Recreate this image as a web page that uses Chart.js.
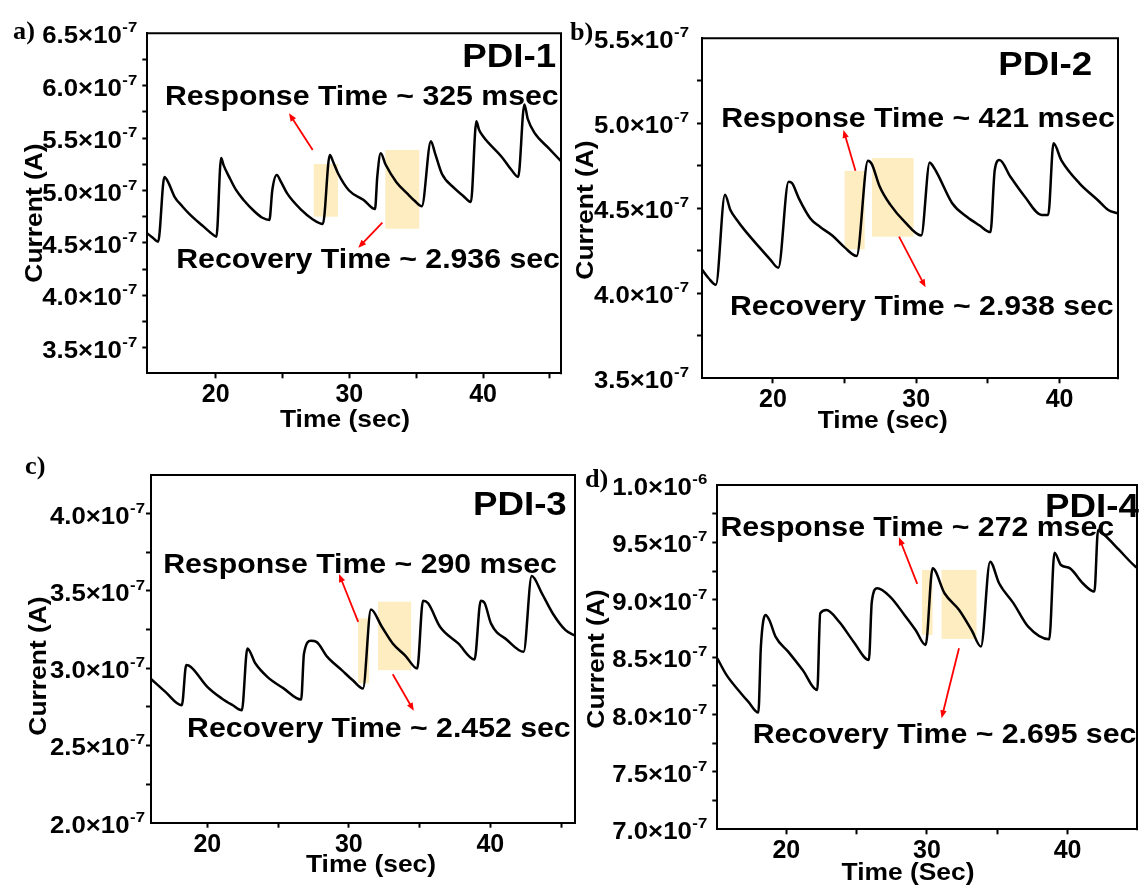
<!DOCTYPE html>
<html><head><meta charset="utf-8">
<script src="https://cdn.jsdelivr.net/npm/chart.js@4/dist/chart.umd.min.js"></script>
<style>
html,body{margin:0;padding:0;background:#fff;}
#wrap{position:relative;width:1141px;height:885px;overflow:hidden;background:#fff;}
#wrap canvas{position:absolute;left:0;top:0;}
</style></head><body><div id="wrap">
<canvas id="cA" width="1141" height="885"></canvas>
<canvas id="cB" width="1141" height="885"></canvas>
<canvas id="cC" width="1141" height="885"></canvas>
<canvas id="cD" width="1141" height="885"></canvas>
</div>
<script>
// ---------- DATA (current in units of 1e-7 A, time in s) ----------
const timeA = [14.89,15.3,15.7,16.17,16.45,16.93,17.5,18.01,18.6,19.1,19.6,20.06,20.41,20.6,21.01,21.5,22.09,22.91,23.5,24.02,24.24,24.57,24.9,25.36,26.45,27.2,28.02,28.54,28.8,29.17,29.98,31.07,31.92,32.09,32.35,32.7,33.52,34.34,34.9,35.42,36.1,36.4,36.92,37.87,38.5,39.09,39.5,39.7,40.04,41.4,42.1,42.63,43.09,43.35,43.85,44.94,45.83];
const currentA = [4.59,4.55,4.51,5.13,5.08,4.94,4.85,4.78,4.71,4.655,4.6,4.56,5.31,5.24,5.13,5.01,4.91,4.80,4.74,4.718,5.005,5.148,5.08,4.97,4.81,4.73,4.68,5.34,5.27,5.16,5.00,4.91,4.823,5.132,5.355,5.25,5.08,4.97,4.9,4.85,5.47,5.36,5.16,5.02,4.95,4.89,5.66,5.58,5.51,5.32,5.2,5.13,5.82,5.68,5.55,5.40,5.28];

const timeB = [15.05,15.5,16.02,16.65,17.03,17.5,18.04,19.06,19.8,20.38,21.09,21.34,21.8,22.61,23.3,24.14,25.0,25.84,26.63,26.9,27.44,28.2,29.2,30.35,30.94,31.15,31.5,32.51,33.53,34.4,35.18,35.48,35.81,36.57,37.58,38.75,39.21,39.58,40.12,41.39,42.66,43.4,44.08];
const currentB = [4.14,4.09,4.05,4.58,4.49,4.43,4.37,4.27,4.2,4.15,4.656,4.647,4.56,4.44,4.39,4.34,4.27,4.22,4.78,4.76,4.63,4.52,4.42,4.34,4.77,4.75,4.70,4.53,4.45,4.4,4.36,4.725,4.784,4.686,4.568,4.461,4.461,4.882,4.784,4.647,4.549,4.49,4.47];

const timeC = [16.02,17.0,18.2,18.51,18.84,20.0,21.02,21.8,22.44,22.83,23.4,24.24,25.39,26.63,26.83,27.32,27.71,28.48,29.5,30.3,31.0,31.56,32.33,33.1,34.0,34.83,35.24,35.6,36.44,37.73,38.88,39.32,39.6,40.04,41.2,42.35,42.92,43.64,44.41,45.31,45.98];
const currentC = [2.93,2.85,2.76,3.02,3.008,2.879,2.804,2.76,2.728,3.128,3.03,2.944,2.869,2.797,3.095,3.177,3.17,3.073,2.987,2.92,2.869,3.38,3.268,3.16,3.08,2.998,3.436,3.42,3.268,3.16,3.056,3.436,3.42,3.29,3.181,3.106,3.596,3.484,3.354,3.246,3.21];

const timeD = [15.09,15.74,16.77,17.29,18.01,18.19,18.52,18.79,19.23,20.13,21.16,22.2,22.41,22.85,23.75,24.78,25.87,26.08,26.47,27.37,28.4,29.19,29.91,30.4,31.25,32.29,33.2,33.84,34.49,35.13,36.16,37.2,38.7,39.07,39.53,40.18,41.08,41.91,42.17,42.63,43.67,44.84,44.94];
const currentD = [8.49,8.345,8.186,8.112,8.017,8.592,8.868,8.824,8.679,8.548,8.388,8.214,8.882,8.911,8.809,8.635,8.476,8.984,9.1,9.027,8.868,8.737,8.606,9.274,9.057,8.911,8.73,8.592,9.332,9.144,8.969,8.766,8.656,9.41,9.303,9.274,9.144,9.071,9.608,9.564,9.434,9.288,9.28];

// tick labels
const xTickLabels = [20, 30, 40];
const yTicksA = [3.5,4.0,4.5,5.0,5.5,6.0,6.5];
const yTickLabelsA = ['3.5×10^-7','4.0×10^-7','4.5×10^-7','5.0×10^-7','5.5×10^-7','6.0×10^-7','6.5×10^-7'];
const yTicksB = [3.5,4.0,4.5,5.0,5.5];
const yTickLabelsB = ['3.5×10^-7','4.0×10^-7','4.5×10^-7','5.0×10^-7','5.5×10^-7'];
const yTicksC = [2.0,2.5,3.0,3.5,4.0];
const yTickLabelsC = ['2.0×10^-7','2.5×10^-7','3.0×10^-7','3.5×10^-7','4.0×10^-7'];
const yTicksD = [7.0,7.5,8.0,8.5,9.0,9.5,10.0];
const yTickLabelsD = ['7.0×10^-7','7.5×10^-7','8.0×10^-7','8.5×10^-7','9.0×10^-7','9.5×10^-7','1.0×10^-6'];

// annotation texts
const textsA = ['PDI-1','Response Time ~ 325 msec','Recovery Time ~ 2.936 sec'];
const textsB = ['PDI-2','Response Time ~ 421 msec','Recovery Time ~ 2.938 sec'];
const textsC = ['PDI-3','Response Time ~ 290 msec','Recovery Time ~ 2.452 sec'];
const textsD = ['PDI-4','Response Time ~ 272 msec','Recovery Time ~ 2.695 sec'];

// highlighted windows [x0,x1,y0,y1] and arrows [xFrom,yFrom,xTo,yTo] in data units
const windowsA = [[27.34,29.15,4.75,5.253],[32.69,35.23,4.635,5.387]];
const arrowsA = [[27.26,5.386,25.49,5.737],[32.47,4.693,30.67,4.454]];
const windowsB = [[25.0,26.4,4.259,4.72],[26.92,29.82,4.333,4.796]];
const arrowsB = [[25.76,4.721,24.92,4.961],[28.8,4.333,30.65,4.035]];
const windowsC = [[30.65,31.43,2.901,3.322],[32.06,34.4,2.987,3.43]];
const arrowsC = [[30.66,3.3,29.31,3.609],[33.1,2.961,34.59,2.724]];
const windowsD = [[29.65,30.4,8.693,9.26],[31.04,33.53,8.659,9.26]];
const arrowsD = [[29.31,9.138,28.01,9.544],[32.28,8.578,31.04,7.968]];

// ---------- LAYOUT ----------
const W = 1141, H = 885, SX = 1.08;
const SANS = '"Liberation Sans", Arial, sans-serif';
const SERIF = '"Liberation Serif", "Times New Roman", serif';

const panels = [
  {id:'cA', t:timeA, c:currentA, yt:yTicksA, yl:yTickLabelsA, texts:textsA, win:windowsA, arr:arrowsA,
   box:[147.3,33.3,561,373.3], xr:[14.89,45.83], yr:[3.256,6.5], gap:10,
   letter:'a)', letterPos:[13,39], yTitlePos:[42,213], xTitle:'Time (sec)', xTitlePos:[345,427],
   anchors:[[45.46,6.176],[30.93,5.82],[31.4,4.256]]},
  {id:'cB', t:timeB, c:currentB, yt:yTicksB, yl:yTickLabelsB, texts:textsB, win:windowsB, arr:arrowsB,
   box:[702,38.3,1118,378.3], xr:[15.05,44.08], yr:[3.5,5.5], gap:13,
   letter:'b)', letterPos:[570,40], yTitlePos:[593,210], xTitle:'Time (sec)', xTitlePos:[882.7,428],
   anchors:[[42.27,5.284],[30.12,4.978],[30.39,3.872]]},
  {id:'cC', t:timeC, c:currentC, yt:yTicksC, yl:yTickLabelsC, texts:textsC, win:windowsC, arr:arrowsC,
   box:[151,475,575,822.7], xr:[16.02,45.98], yr:[2.0,4.25], gap:6,
   letter:'c)', letterPos:[25,474], yTitlePos:[46,666], xTitle:'Time (sec)', xTitlePos:[371,872],
   anchors:[[45.4,3.991],[30.79,3.613],[32.12,2.555]]},
  {id:'cD', t:timeD, c:currentD, yt:yTicksD, yl:yTickLabelsD, texts:textsD, win:windowsD, arr:arrowsD,
   box:[717.3,485,1137,829.3], xr:[15.09,44.94], yr:[7.0,10.0], gap:10,
   letter:'d)', letterPos:[585,487], yTitlePos:[604,659], xTitle:'Time (Sec)', xTitlePos:[908,880],
   anchors:[[45.08,9.721],[29.31,9.556],[31.25,7.75]]}
];

function txt(ctx, s, x, y, font, align, sx) {
  ctx.save();
  ctx.translate(x, y);
  ctx.scale(sx === undefined ? SX : sx, 1);
  ctx.font = font; ctx.textAlign = align; ctx.textBaseline = 'alphabetic';
  ctx.fillStyle = '#000';
  ctx.fillText(s, 0, 0);
  ctx.restore();
}

function sci(ctx, label, rightX, y) {
  const parts = label.split('^');
  ctx.save();
  ctx.translate(rightX, y);
  ctx.scale(1.12, 1);
  ctx.fillStyle = '#000';
  ctx.textAlign = 'right'; ctx.textBaseline = 'alphabetic';
  ctx.font = 'bold 15px ' + SANS;
  const sw = ctx.measureText(parts[1]).width;
  ctx.fillText(parts[1], 0, -1);
  ctx.font = 'bold 23px ' + SANS;
  ctx.fillText(parts[0], -sw - 0.5, 10);
  ctx.restore();
}

function arrow(ctx, x1, y1, x2, y2) {
  const a = Math.atan2(y2 - y1, x2 - x1), hl = 8, hw = 3.2;
  ctx.save();
  ctx.strokeStyle = '#f00'; ctx.fillStyle = '#f00'; ctx.lineWidth = 1.8;
  ctx.beginPath(); ctx.moveTo(x1, y1);
  ctx.lineTo(x2 - Math.cos(a) * hl * 0.8, y2 - Math.sin(a) * hl * 0.8); ctx.stroke();
  ctx.beginPath();
  ctx.moveTo(x2, y2);
  ctx.lineTo(x2 - Math.cos(a) * hl + Math.sin(a) * hw, y2 - Math.sin(a) * hl - Math.cos(a) * hw);
  ctx.lineTo(x2 - Math.cos(a) * hl - Math.sin(a) * hw, y2 - Math.sin(a) * hl + Math.cos(a) * hw);
  ctx.closePath(); ctx.fill();
  ctx.restore();
}

function makeDeco(p) {
  return {
    id: 'deco' + p.id,
    beforeDatasetsDraw(chart) {
      const ctx = chart.ctx, xs = chart.scales.x, ys = chart.scales.y;
      ctx.save();
      ctx.fillStyle = '#FDEDC1';
      p.win.forEach(r => {
        const x0 = xs.getPixelForValue(r[0]), x1 = xs.getPixelForValue(r[1]);
        const y0 = ys.getPixelForValue(r[2]), y1 = ys.getPixelForValue(r[3]);
        ctx.fillRect(x0, y1, x1 - x0, y0 - y1);
      });
      ctx.restore();
    },
    afterDatasetsDraw(chart) {
      const ctx = chart.ctx, xs = chart.scales.x, ys = chart.scales.y;
      p.arr.forEach(a => arrow(ctx, xs.getPixelForValue(a[0]), ys.getPixelForValue(a[1]),
                                 xs.getPixelForValue(a[2]), ys.getPixelForValue(a[3])));
    },
    afterDraw(chart) {
      const ctx = chart.ctx, xs = chart.scales.x, ys = chart.scales.y, ca = chart.chartArea;
      ctx.save();
      ctx.strokeStyle = '#000'; ctx.lineWidth = 2;
      ctx.beginPath();
      ctx.moveTo(ca.left - 1, ca.top); ctx.lineTo(ca.right, ca.top); ctx.lineTo(ca.right, ca.bottom + 1);
      ctx.stroke();
      ctx.restore();
      p.yt.forEach((v, i) => sci(ctx, p.yl[i], ca.left - p.gap, ys.getPixelForValue(v)));
      const an = p.anchors;
      txt(ctx, p.texts[0], xs.getPixelForValue(an[0][0]), ys.getPixelForValue(an[0][1]), 'bold 34px ' + SANS, 'right');
      txt(ctx, p.texts[1], xs.getPixelForValue(an[1][0]), ys.getPixelForValue(an[1][1]), 'bold 28px ' + SANS, 'center');
      txt(ctx, p.texts[2], xs.getPixelForValue(an[2][0]), ys.getPixelForValue(an[2][1]), 'bold 28px ' + SANS, 'center');
      txt(ctx, p.xTitle, p.xTitlePos[0], p.xTitlePos[1], 'bold 24px ' + SANS, 'center', 1.1);
      ctx.save();
      ctx.translate(p.yTitlePos[0], p.yTitlePos[1]);
      ctx.rotate(-Math.PI / 2);
      ctx.scale(1.1, 1);
      ctx.font = 'bold 24px ' + SANS; ctx.textAlign = 'center'; ctx.textBaseline = 'alphabetic';
      ctx.fillStyle = '#000';
      ctx.fillText('Current (A)', 0, 0);
      ctx.restore();
      txt(ctx, p.letter, p.letterPos[0], p.letterPos[1], 'bold 25px ' + SERIF, 'left', 1.05);
    }
  };
}

panels.forEach(p => {
  const b = p.box;
  const xt = [20, 25, 30, 35, 40, 45].filter(v => v > p.xr[0] + 0.3 && v < p.xr[1] - 0.05);
  const yt = [];
  for (let v = 2.0; v <= 10.001; v += 0.25) {
    const r = Math.round(v * 100) / 100;
    if (r > p.yr[0] + 0.01 && r < p.yr[1] - 0.01) yt.push(r);
  }
  const xAxisH = H - b[3];
  new Chart(document.getElementById(p.id), {
    type: 'line',
    data: {
      datasets: [{
        data: p.t.map((t, i) => ({x: t, y: p.c[i]})),
        borderColor: '#000', borderWidth: 2.5, pointRadius: 0,
        cubicInterpolationMode: 'monotone', fill: false
      }]
    },
    options: {
      responsive: false, animation: false, devicePixelRatio: 1, events: [],
      layout: {padding: {left: b[0], top: b[1], right: W - b[2], bottom: 0}},
      plugins: {legend: {display: false}, tooltip: {enabled: false}, title: {display: false}},
      scales: {
        x: {
          type: 'linear', min: p.xr[0], max: p.xr[1],
          afterBuildTicks: s => { s.ticks = xt.map(v => ({value: v})); },
          afterFit: s => { s.height = xAxisH; },
          grid: {display: true, drawOnChartArea: false, drawTicks: true, tickLength: 5, tickWidth: 2, tickColor: '#000'},
          border: {display: true, color: '#000', width: 2},
          ticks: {autoSkip: false, maxRotation: 0, minRotation: 0, padding: 2, color: '#000',
                  font: {family: SANS, size: 25, weight: 'bold'},
                  callback: v => xTickLabels.includes(v) ? String(v) : ''}
        },
        y: {
          type: 'linear', min: p.yr[0], max: p.yr[1],
          afterBuildTicks: s => { s.ticks = yt.map(v => ({value: v})); },
          afterFit: s => { s.width = 0; },
          grid: {display: true, drawOnChartArea: false, drawTicks: true, tickLength: 5, tickWidth: 2, tickColor: '#000'},
          border: {display: true, color: '#000', width: 2},
          ticks: {display: false}
        }
      }
    },
    plugins: [makeDeco(p)]
  });
});
</script>
</body></html>
